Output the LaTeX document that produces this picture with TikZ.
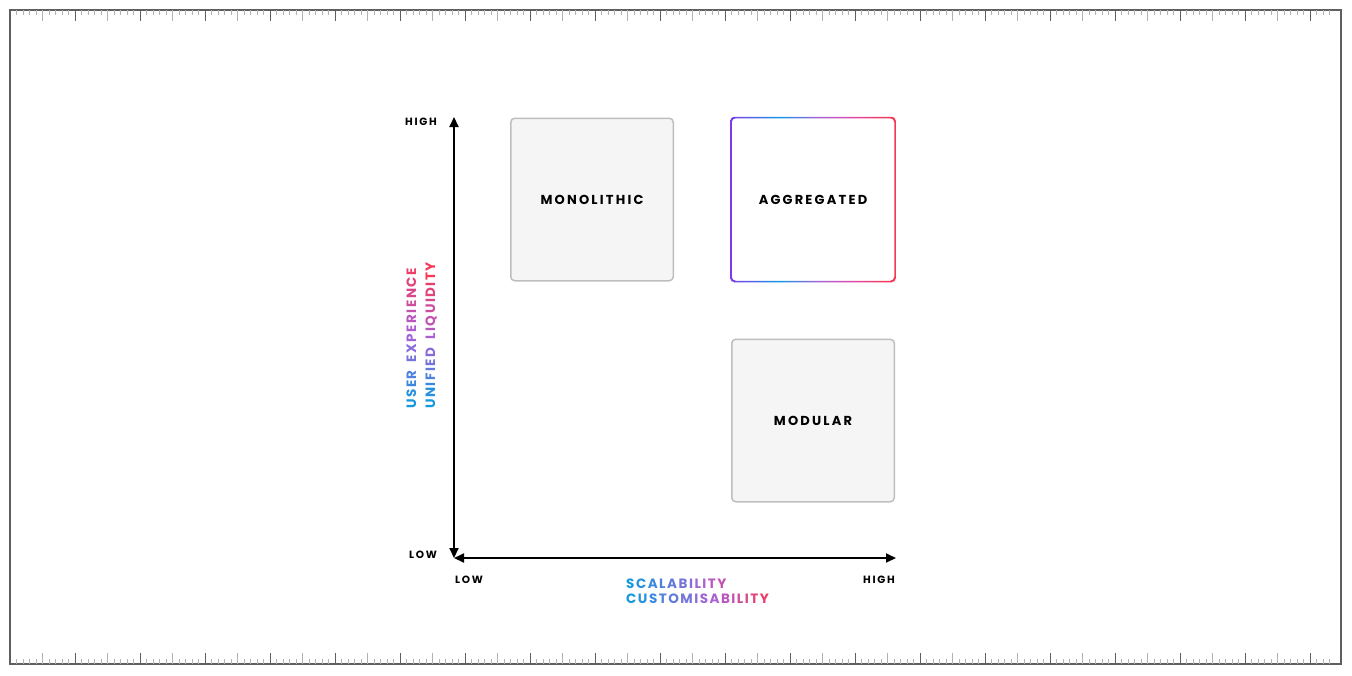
\documentclass[tikz,border=0pt]{standalone}
\usepackage{fontspec}
\setmainfont{Poppins}
\newfontfamily\capsfont[LetterSpace=17]{Poppins}
\usetikzlibrary{arrows.meta}

\definecolor{gblue}{RGB}{20,152,224}
\definecolor{gpurp}{RGB}{168,96,216}
\definecolor{gpink}{RGB}{226,70,170}
\definecolor{gred}{RGB}{246,56,88}
\definecolor{gviolet}{RGB}{124,58,237}
\definecolor{cellfill}{RGB}{245,245,245}
\definecolor{celldraw}{RGB}{190,190,190}
\definecolor{framecol}{RGB}{95,95,95}
\definecolor{tickcol}{RGB}{178,178,178}

% border of the aggregated box
\pgfdeclarehorizontalshading{aggrborder}{100bp}{color(0bp)=(gviolet); color(25bp)=(gviolet); color(40bp)=(gblue); color(52bp)=(gpurp); color(62bp)=(gpink); color(72bp)=(gred); color(100bp)=(gred)}

% letter colours for the axis titles
\foreach \i in {0,...,16}{%
  \pgfmathtruncatemacro\mixa{min(100,200*\i/15)}%
  \pgfmathtruncatemacro\mixb{max(0,min(100,200*\i/15-100))}%
  \ifnum\i<8 \xglobal\colorlet{g\i}{gpurp!\mixa!gblue}\else\xglobal\colorlet{g\i}{gred!\mixb!gpurp}\fi
}
\newcount\gk
\def\gradtext#1{\gk=0 \gradstep#1\relax}
\def\gradstep#1{\ifx#1\relax\else\textcolor{g\the\gk}{#1}\kern1.5pt\global\advance\gk by 1 \expandafter\gradstep\fi}

\tikzset{
  cell/.style={draw=celldraw, fill=cellfill, line width=1.5pt, rounded corners=4pt,
    minimum width=162.5pt, minimum height=162.5pt,
    font=\capsfont\bfseries\fontsize{13}{15}\selectfont},
  axis/.style={line width=2pt, {Triangle[length=10pt,width=9pt]}-{Triangle[length=10pt,width=9pt]}},
  endtag/.style={font=\capsfont\bfseries\fontsize{10.5}{12}\selectfont, inner sep=0pt},
  axistitle/.style={font=\capsfont\bfseries\fontsize{13.5}{15}\selectfont, inner sep=0pt},
}

\begin{document}
\begin{tikzpicture}[x=1pt,y=-1pt]
\useasboundingbox (0,0) rectangle (1352,675);

% ruler frame
\draw[framecol, line width=1.5pt] (10,10) rectangle (1341,664);
\foreach \k in {1,...,203}{
  \pgfmathtruncatemacro\m{mod(\k,10)}
  \ifnum\m=0 \def\len{11}\def\col{framecol}\else\ifnum\m=5 \def\len{11}\def\col{tickcol}\else\def\len{5}\def\col{tickcol}\fi\fi
  \draw[\col, line width=1pt] (10+6.5*\k,10) -- ++(0,\len);
  \draw[\col, line width=1pt] (10+6.5*\k,664) -- ++(0,-\len);
}

% axes
\coordinate (origin) at (454,558);
\coordinate (ytop) at (454,117);
\coordinate (xend) at (896,558);
\draw[axis] (origin) -- (ytop);
\draw[axis] (origin) -- (xend);

\node[endtag] (yhigh) at (421,122) {HIGH};
\node[endtag] (ylow) at (423,555) {LOW};
\node[endtag] (xlow) at (469,580) {LOW};
\node[endtag] (xhigh) at (879,580) {HIGH};

\node[axistitle, anchor=base west] (scal) at (626,588) {\gradtext{SCALABILITY}};
\node[axistitle, anchor=base west] (cust) at (626,603) {\gradtext{CUSTOMISABILITY}};
\node[axistitle, anchor=base west, rotate=90] (ux) at (416,409) {\gradtext{USER~EXPERIENCE}};
\node[axistitle, anchor=base west, rotate=90] (liq) at (435,409) {\gradtext{UNIFIED~LIQUIDITY}};

% quadrants
\node[cell] (mono) at (592,199.5) {MONOLITHIC};
\node[cell] (modu) at (813,420.5) {MODULAR};
\node[cell, draw=none, fill=white] (aggr) at (813,199.5) {AGGREGATED};
\shade[shading=aggrborder, even odd rule, rounded corners=4pt]
  ([shift={(-.75,-.75)}]aggr.north west) rectangle ([shift={(.75,.75)}]aggr.south east)
  ([shift={(.75,.75)}]aggr.north west) rectangle ([shift={(-.75,-.75)}]aggr.south east);
\end{tikzpicture}
\end{document}
